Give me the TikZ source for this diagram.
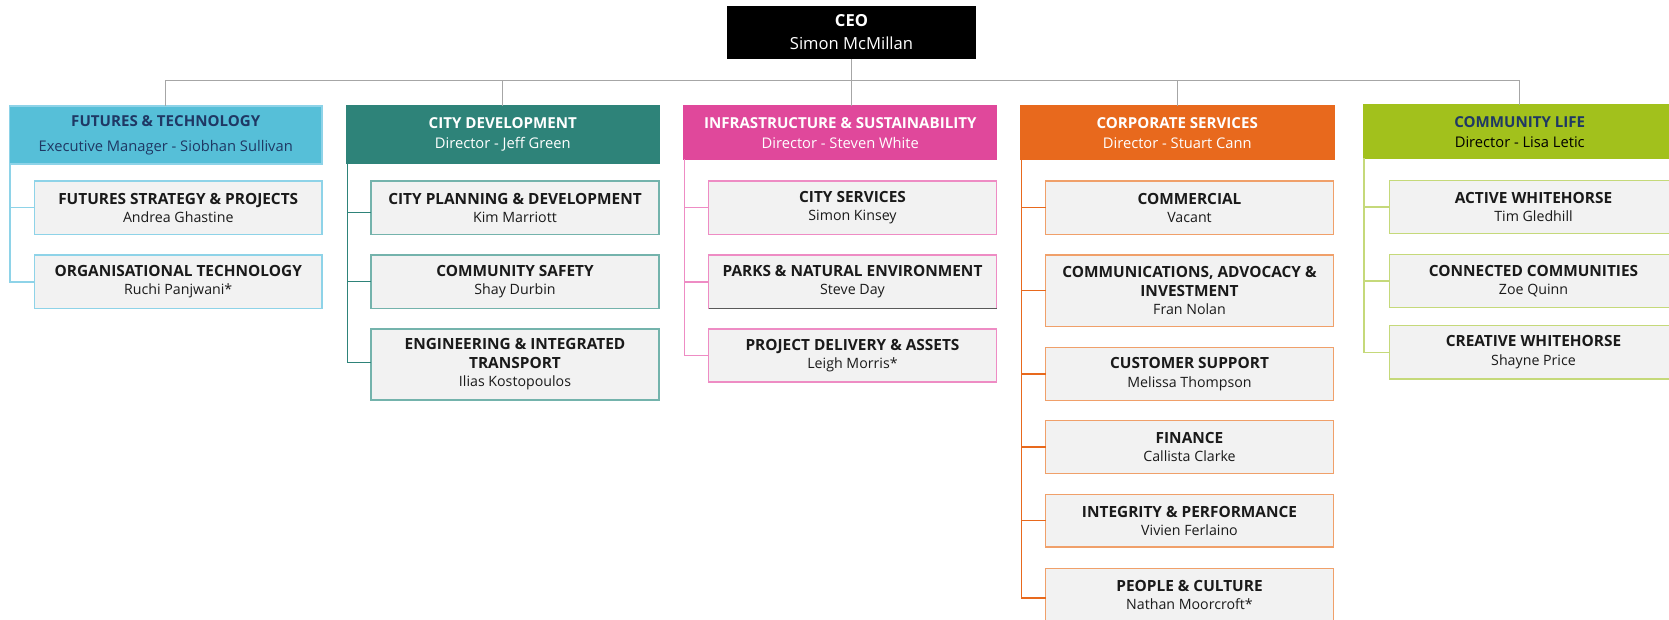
\documentclass[tikz,border=0pt]{standalone}
\usepackage{fontspec}
\setmainfont{Open Sans}
\definecolor{navy}{HTML}{1F3864}
\definecolor{greyline}{HTML}{A6A6A6}
\definecolor{childfill}{HTML}{F2F2F2}
\definecolor{ftc}{HTML}{56BFD8}\definecolor{ftb}{HTML}{8ED3E8}
\definecolor{cdc}{HTML}{2E8379}\definecolor{cdb}{HTML}{74B3AC}
\definecolor{isc}{HTML}{E0489B}\definecolor{isb}{HTML}{EE8CC4}
\definecolor{csc}{HTML}{E8691D}\definecolor{csb}{HTML}{F0A06A}
\definecolor{clc}{HTML}{A2C11C}\definecolor{clb}{HTML}{C5D97A}
\definecolor{txt}{HTML}{1A1A1A}
\newcommand{\orgbox}[7]{%
  \node[#2, anchor=north west, minimum width={#5pt-#3pt}, minimum height={#6pt-#4pt}] (#1) at (#3,#4) {#7};}
\newcommand{\ctitle}[1]{{\fontsize{15.4}{18.5}\selectfont\bfseries #1}}
\newcommand{\htitle}[1]{{\fontsize{15.1}{20}\selectfont\bfseries #1}}
\begin{document}
\begin{tikzpicture}[x=1pt,y=-1pt,
  every node/.style={inner sep=0pt, outer sep=0pt, align=center},
  base/.style={rectangle, line width=1.3pt},
  headbox/.style={base, font=\fontsize{14.7}{20}\selectfont},
  childbox/.style={base, fill=childfill, text=txt, font=\fontsize{14.2}{18.5}\selectfont},
  ceobox/.style={base, fill=black, text=white, font=\fontsize{16.6}{23}\selectfont},
  bus/.style={draw=greyline, line width=1.3pt},
  ftline/.style={draw=ftb, line width=1.5pt},
  cdline/.style={draw=cdc, line width=1.3pt},
  isline/.style={draw=isb, line width=1.5pt},
  csline/.style={draw=csc, line width=1.3pt},
  clline/.style={draw=clb, line width=1.5pt},
]
\clip (0,0) rectangle (1669,620);
\fill[white] (0,0) rectangle (1669,620);

% CEO
\orgbox{ceo}{ceobox}{727}{6}{976}{59}{\textbf{CEO}\\Simon McMillan}

% Headers
\orgbox{ft}{headbox, fill=ftc, draw=ftb, text=navy, font=\fontsize{14.7}{25}\selectfont}{9.5}{106}{322}{164}{\htitle{FUTURES \& TECHNOLOGY}\\Executive Manager - Siobhan Sullivan}
\orgbox{cd}{headbox, fill=cdc, draw=cdc, text=white}{346.5}{106}{659}{163}{\htitle{CITY DEVELOPMENT}\\Director - Jeff Green}
\orgbox{is}{headbox, fill=isc, draw=isc, text=white}{684}{106}{996.5}{159.5}{\htitle{INFRASTRUCTURE \& SUSTAINABILITY}\\Director - Steven White}
\orgbox{cs}{headbox, fill=csc, draw=csc, text=white}{1020.5}{106}{1334}{159.5}{\htitle{CORPORATE SERVICES}\\Director - Stuart Cann}
\orgbox{cl}{headbox, fill=clc, draw=clc, text=black}{1363.5}{105}{1676}{158.5}{\textcolor{navy}{\htitle{COMMUNITY LIFE}}\\Director - Lisa Letic}

% CEO connectors
\draw[bus] (ceo.south) -- (ceo.south |- is.north);
\draw[bus] (ft.north) -- ++(0,-25.5) coordinate (busl) -| (cl.north);
\draw[bus] (cd.north) -- (cd.north |- busl);
\draw[bus] (cs.north) -- (cs.north |- busl);

% Futures & Technology children
\orgbox{f1}{childbox, draw=ftb}{34.5}{181}{322}{234.5}{\ctitle{FUTURES STRATEGY \& PROJECTS}\\Andrea Ghastine}
\orgbox{f2}{childbox, draw=ftb}{34.5}{255}{322}{308.5}{\ctitle{ORGANISATIONAL TECHNOLOGY}\\Ruchi Panjwani*}
\draw[ftline] ([xshift=0.7pt]ft.south west) |- (f1.west);
\draw[ftline] ([xshift=0.7pt]ft.south west) |- (f2.west);

% City Development children
\orgbox{d1}{childbox, draw=cdb}{371}{181}{659}{234.5}{\ctitle{CITY PLANNING \& DEVELOPMENT}\\Kim Marriott}
\orgbox{d2}{childbox, draw=cdb}{371}{255}{659}{308.5}{\ctitle{COMMUNITY SAFETY}\\Shay Durbin}
\orgbox{d3}{childbox, draw=cdb}{371}{329}{659}{400}{\ctitle{ENGINEERING \& INTEGRATED}\\\ctitle{TRANSPORT}\\Ilias Kostopoulos}
\draw[cdline] ([xshift=0.7pt]cd.south west) |- ([yshift=-5pt]d1.west);
\draw[cdline] ([xshift=0.7pt]cd.south west) |- (d2.west);
\draw[cdline] ([xshift=0.7pt]cd.south west) |- ([yshift=2pt]d3.west);

% Infrastructure & Sustainability children
\orgbox{i1}{childbox, draw=isb}{708.5}{181}{996.5}{234.5}{\ctitle{CITY SERVICES}\\Simon Kinsey}
\orgbox{i2}{childbox, draw=isb}{708.5}{255}{996.5}{308.5}{\ctitle{PARKS \& NATURAL ENVIRONMENT}\\Steve Day}
\draw[draw=black!65, line width=1.5pt] (i2.south west) -- (i2.south east);
\orgbox{i3}{childbox, draw=isb}{708.5}{329}{996.5}{382}{\ctitle{PROJECT DELIVERY \& ASSETS}\\Leigh Morris*}
\draw[isline] ([xshift=0.7pt]is.south west) |- (i1.west);
\draw[isline] ([xshift=0.7pt]is.south west) |- (i2.west);
\draw[isline] ([xshift=0.7pt]is.south west) |- (i3.west);

% Corporate Services children
\orgbox{c1}{childbox, draw=csb}{1045.5}{181}{1333.5}{234.5}{\ctitle{COMMERCIAL}\\Vacant}
\orgbox{c2}{childbox, draw=csb}{1045.5}{255}{1333.5}{326.5}{\ctitle{COMMUNICATIONS, ADVOCACY \&}\\\ctitle{INVESTMENT}\\Fran Nolan}
\orgbox{c3}{childbox, draw=csb}{1045.5}{347.5}{1333.5}{400.5}{\ctitle{CUSTOMER SUPPORT}\\Melissa Thompson}
\orgbox{c4}{childbox, draw=csb}{1045.5}{420.5}{1333.5}{473.5}{\ctitle{FINANCE}\\Callista Clarke}
\orgbox{c5}{childbox, draw=csb}{1045.5}{494.5}{1333.5}{547}{\ctitle{INTEGRITY \& PERFORMANCE}\\Vivien Ferlaino}
\node[childbox, draw=csb, anchor=north west, minimum width=288pt, minimum height=60pt] (c6) at (1045.5,568.5) {};
\node[font=\fontsize{14.2}{18.5}\selectfont, text=txt] (c6t) at (1189.5,595) {\ctitle{PEOPLE \& CULTURE}\\Nathan Moorcroft*};
\draw[csline] ([xshift=0.7pt]cs.south west) |- (c1.west);
\draw[csline] ([xshift=0.7pt]cs.south west) |- (c2.west);
\draw[csline] ([xshift=0.7pt]cs.south west) |- (c3.west);
\draw[csline] ([xshift=0.7pt]cs.south west) |- (c4.west);
\draw[csline] ([xshift=0.7pt]cs.south west) |- (c5.west);
\draw[csline] ([xshift=0.7pt]cs.south west) |- ([yshift=-3pt]c6.north west |- c6t.center) coordinate (c6c);
\draw[csline] (c6c) -- (c6.west |- c6c);

% Community Life children
\orgbox{l1}{childbox, draw=clb}{1389.5}{180.5}{1677.5}{233.5}{\ctitle{ACTIVE WHITEHORSE}\\Tim Gledhill}
\orgbox{l2}{childbox, draw=clb}{1389.5}{254.5}{1677.5}{307.5}{\ctitle{CONNECTED COMMUNITIES}\\Zoe Quinn}
\orgbox{l3}{childbox, draw=clb}{1389.5}{325.5}{1677.5}{379}{\ctitle{CREATIVE WHITEHORSE}\\Shayne Price}
\draw[clline] ([xshift=0.7pt]cl.south west) |- (l1.west);
\draw[clline] ([xshift=0.7pt]cl.south west) |- (l2.west);
\draw[clline] ([xshift=0.7pt]cl.south west) |- (l3.west);
\end{tikzpicture}
\end{document}
